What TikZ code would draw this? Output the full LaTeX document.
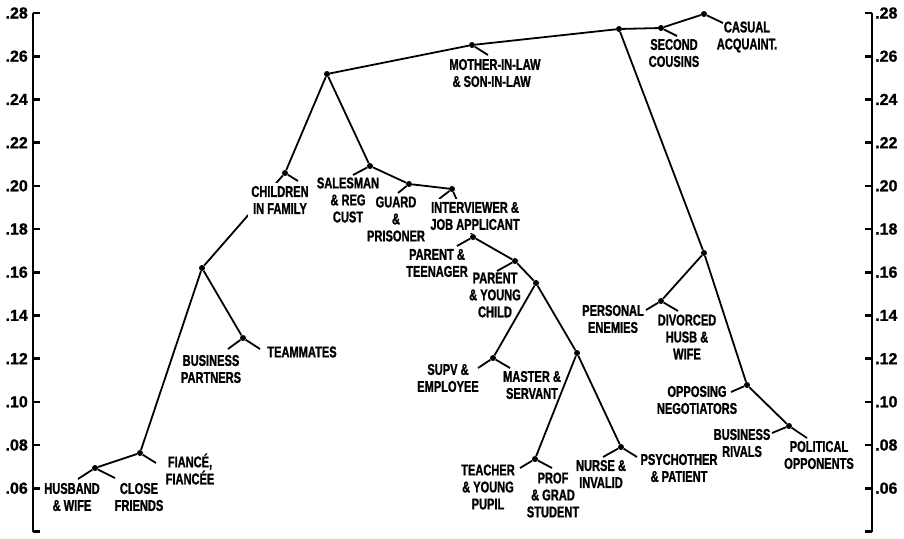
\documentclass[tikz,border=0pt]{standalone}
\usepackage{fontspec}
\newfontfamily\labfont[FakeStretch=0.71,FakeBold=1.2]{Liberation Sans Bold}
\newfontfamily\axfont[FakeBold=1]{Liberation Sans Bold}
\usetikzlibrary{positioning}

\begin{document}
\begin{tikzpicture}[
  x=1pt, y=-1pt,
  font=\labfont\fontsize{15.6}{17}\selectfont,
  junc/.style={circle,fill,inner sep=0pt,minimum size=6pt},
  link/.style={line width=1.8pt},
  stub/.style={line width=1.8pt},
  leaf/.style={align=center,inner sep=1pt},
  mask/.style={leaf,fill=white,inner sep=3pt},
  axisline/.style={line width=2.6pt},
  ticklab/.style={font=\axfont\fontsize{16}{17}\selectfont,inner sep=1pt}
]
\useasboundingbox (0,0) rectangle (904,538);

% ---- scales ----
\draw[axisline] (33,13) -- (33,532);
\draw[axisline] (872,13) -- (872,532);
\foreach \v in {4,6,...,28} {
  \draw[axisline] (33,{13+(28-\v)*21.6}) -- ++(7,0);
  \draw[axisline] (872,{13+(28-\v)*21.6}) -- ++(-7,0);
}
\foreach \v/\t in {6/.06,8/.08,10/.10,12/.12,14/.14,16/.16,18/.18,20/.20,22/.22,24/.24,26/.26,28/.28} {
  \node[ticklab,anchor=east] (lt\v) at (29,{13+(28-\v)*21.6}) {\t};
  \node[ticklab,anchor=west] (rt\v) at (874,{13+(28-\v)*21.6}) {\t};
}

% ---- junctions ----
\node[junc] (root)  at (619,29) {};
\node[junc] (cous)  at (661,28) {};
\node[junc] (casu)  at (704,14) {};
\node[junc] (mil)   at (472,45) {};
\node[junc] (big)   at (327,74) {};
\node[junc] (chil)  at (285,173) {};
\node[junc] (intim) at (202,268) {};
\node[junc] (team)  at (243,338) {};
\node[junc] (fian)  at (140,453) {};
\node[junc] (husb)  at (95,468) {};
\node[junc] (sale)  at (370,166) {};
\node[junc] (guar)  at (409,184) {};
\node[junc] (intv)  at (452,189) {};
\node[junc] (teen)  at (473,237) {};
\node[junc] (ychi)  at (515,261) {};
\node[junc] (subo)  at (536,283) {};
\node[junc] (supv)  at (493,358) {};
\node[junc] (care)  at (577,353) {};
\node[junc] (teac)  at (535,459) {};
\node[junc] (nurs)  at (621,447) {};
\node[junc] (host)  at (704,253) {};
\node[junc] (enem)  at (661,301) {};
\node[junc] (oppo)  at (747,385) {};
\node[junc] (riva)  at (789,426) {};

% ---- tree ----
\draw[link] (husb) -- (fian) -- (intim) -- (chil) -- (big) -- (mil) -- (root) -- (cous) -- (casu);
\draw[link] (intim) -- (team);
\draw[link] (big) -- (sale) -- (guar) -- (intv) -- (teen) -- (ychi) -- (subo) -- (supv);
\draw[link] (subo) -- (care) -- (teac);
\draw[link] (care) -- (nurs);
\draw[link] (root) -- (host) -- (enem);
\draw[link] (host) -- (oppo) -- (riva);

% ---- stubs to the pairs ----
\draw[stub] (husb) -- +(-17,11);
\draw[stub] (husb) -- +(20,10);
\draw[stub] (fian) -- +(16,10);
\draw[stub] (team) -- +(-15,11);
\draw[stub] (team) -- +(17,11);
\draw[stub] (chil) -- +(13,8);
\draw[stub] (sale) -- +(-17,9);
\draw[stub] (guar) -- +(-11,9);
\draw[stub] (intv) -- +(-13,10);
\draw[stub] (teen) -- +(-16,9);
\draw[stub] (ychi) -- +(-18,10);
\draw[stub] (supv) -- +(-15,10);
\draw[stub] (supv) -- +(17,10);
\draw[stub] (teac) -- +(-15,9);
\draw[stub] (teac) -- +(17,9);
\draw[stub] (nurs) -- +(-18,10);
\draw[stub] (nurs) -- +(16,10);
\draw[stub] (enem) -- +(-15,9);
\draw[stub] (enem) -- +(17,10);
\draw[stub] (oppo) -- +(-16,7);
\draw[stub] (riva) -- +(-17,7);
\draw[stub] (riva) -- +(18,12);
\draw[stub] (cous) -- +(16,8);
\draw[stub] (casu) -- +(19,9);
\draw[stub] (mil) -- +(16,10);

% ---- labels ----
\node[mask] (lChil) at (280,200) {CHILDREN\\IN FAMILY};
\node[leaf] (lSale) at (348,200) {SALESMAN\\\& REG\\CUST};
\node[leaf] (lGuar) at (396,219) {GUARD\\\&\\PRISONER};
\node[mask] (lIntv) at (475,216) {INTERVIEWER \&\\JOB APPLICANT};
\node[leaf] (lTeen) at (437,263) {PARENT \&\\TEENAGER};
\node[leaf] (lYchi) at (495,295) {PARENT\\\& YOUNG\\CHILD};
\node[leaf] (lSupv) at (448,378) {SUPV \&\\EMPLOYEE};
\node[leaf] (lMast) at (532,385) {MASTER \&\\SERVANT};
\node[leaf] (lTeac) at (488,487) {TEACHER\\\& YOUNG\\PUPIL};
\node[leaf] (lProf) at (553,495) {PROF\\\& GRAD\\STUDENT};
\node[leaf] (lNurs) at (601,474) {NURSE \&\\INVALID};
\node[leaf] (lPsyc) at (679,468) {PSYCHOTHER\\\& PATIENT};
\node[leaf] (lEnem) at (613,319) {PERSONAL\\ENEMIES};
\node[leaf] (lDivo) at (687,337) {DIVORCED\\HUSB \&\\WIFE};
\node[leaf] (lOppo) at (697,400) {OPPOSING\\NEGOTIATORS};
\node[leaf] (lRiva) at (742,443) {BUSINESS\\RIVALS};
\node[leaf] (lPoli) at (819,455) {POLITICAL\\OPPONENTS};
\node[leaf] (lCous) at (674,53) {SECOND\\COUSINS};
\node[leaf] (lCasu) at (747,37) {CASUAL\\ACQUAINT.};
\node[leaf,align=left] (lMil) at (495,73) {MOTHER-IN-LAW\\\ \& SON-IN-LAW};
\node[leaf] (lBizp) at (211,369) {BUSINESS\\PARTNERS};
\node[leaf] (lTeam) at (302,352) {TEAMMATES};
\node[leaf] (lFian) at (190,469) {FIANCÉ,\\FIANCÉE};
\node[leaf] (lHusb) at (72,497) {HUSBAND\\\& WIFE};
\node[leaf] (lClos) at (139,497) {CLOSE\\FRIENDS};

\end{tikzpicture}
\end{document}
